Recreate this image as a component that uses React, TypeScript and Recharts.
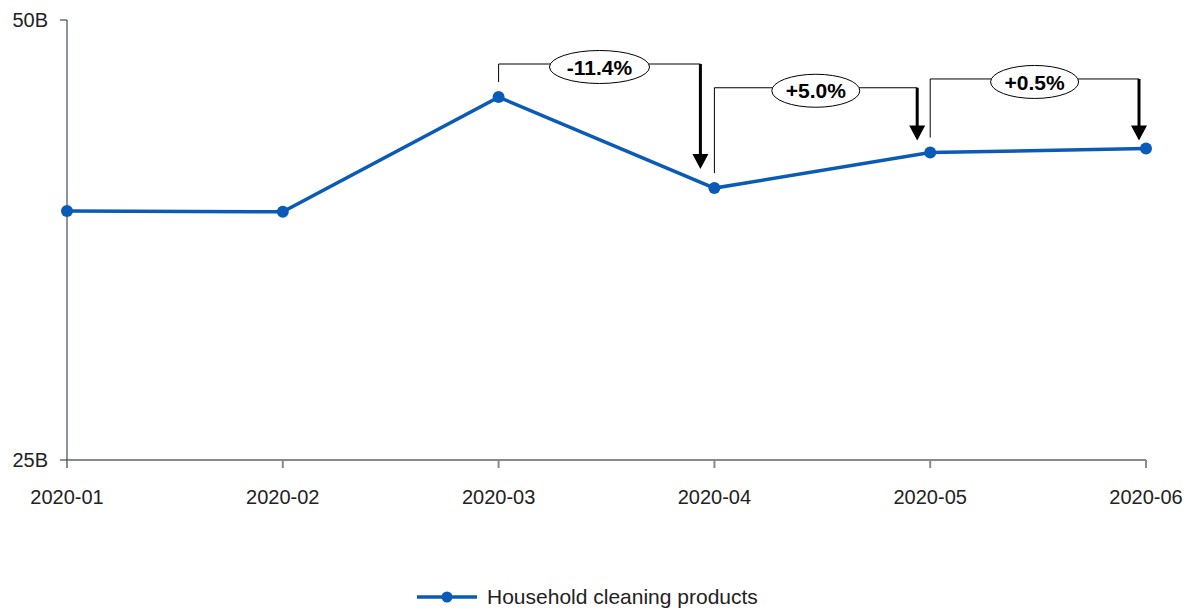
import { CartesianGrid, Legend, Line, LineChart, ReferenceLine, XAxis, YAxis } from "recharts";

const months = ["2020-01", "2020-02", "2020-03", "2020-04", "2020-05", "2020-06"];
const cleaningSales = [39.15, 39.1, 45.62, 40.45, 42.47, 42.7];
const yTicks = [25, 50];

// month-over-month change callouts: from index -> to index
const changeFrom = [2, 3, 4];
const changeLabels = ["-11.4%", "+5.0%", "+0.5%"];
const bracketTops = [47.5, 46.15, 46.65];

const data = months.map((m, i) => ({ month: m, value: cleaningSales[i] }));

const BLUE = "#0a5bb8";
const FONT = "'Liberation Sans', Arial, sans-serif";
// pixel tweaks for the callout arrows (gap left of the point, tip clearance above it)
const arrowGaps = [14, 13, 7];
const arrowClear = [19, 12, 8];

type Seg = { x1?: number; y1?: number; x2?: number; y2?: number };

const legShape = (p: Seg) => (
  <line x1={p.x1} y1={(p.y1 ?? 0) - 15} x2={p.x2} y2={p.y2} stroke="#000" strokeWidth={1} />
);

const barShape = (label: string, gap: number) => (p: Seg) => {
  const x1 = p.x1 ?? 0;
  const x2 = (p.x2 ?? 0) - gap;
  const y = p.y1 ?? 0;
  const cx = (x1 + x2) / 2;
  const rx = label.length * 6 + 14;
  return (
    <g>
      <line x1={x1} y1={y} x2={x2} y2={y} stroke="#000" strokeWidth={1} />
      <ellipse cx={cx} cy={y + 3} rx={rx} ry={16.5} fill="#fff" stroke="#000" strokeWidth={1} />
      <text
        x={cx}
        y={y + 3}
        dy="0.36em"
        textAnchor="middle"
        fontFamily={FONT}
        fontWeight="bold"
        fontSize={21}
        fill="#000"
      >
        {label}
      </text>
    </g>
  );
};

const arrowShape = (gap: number, clear: number) => (p: Seg) => {
  const x = (p.x1 ?? 0) - gap;
  const top = p.y1 ?? 0;
  const tip = (p.y2 ?? 0) - clear;
  return (
    <g>
      <line x1={x} y1={top} x2={x} y2={tip - 14} stroke="#000" strokeWidth={3} />
      <polygon points={`${x - 8},${tip - 15} ${x + 8},${tip - 15} ${x},${tip}`} fill="#000" />
    </g>
  );
};

const LegendContent = () => (
  <div
    style={{
      display: "flex",
      alignItems: "center",
      marginLeft: 417,
      fontFamily: FONT,
      fontSize: 21,
      color: "#222",
      height: 26,
    }}
  >
    <svg width={60} height={14} style={{ marginRight: 10 }}>
      <line x1={0} y1={7} x2={60} y2={7} stroke={BLUE} strokeWidth={3.5} />
      <circle cx={30} cy={7} r={5.5} fill={BLUE} />
    </svg>
    <span>Household cleaning products</span>
  </div>
);

export default function App() {
  return (
    <div style={{ width: 1199, height: 610, position: "absolute", left: 0, top: 0, background: "#fff" }}>
      <LineChart width={1199} height={610} data={data} margin={{ top: 20, right: 53, bottom: 0, left: 0 }}>
        <CartesianGrid stroke="none" />
        <XAxis
          dataKey="month"
          height={50}
          tickSize={8}
          tickMargin={22}
          stroke="#8a8a8a"
          strokeWidth={2}
          tick={{ fill: "#222", fontSize: 20, fontFamily: FONT }}
        />
        <YAxis
          domain={[25, 50]}
          ticks={yTicks}
          width={67}
          tickSize={7}
          tickMargin={12}
          stroke="#1c2742"
          tickFormatter={(v: number) => `${v}B`}
          tick={{ fill: "#222", fontSize: 20, fontFamily: FONT }}
        />
        {changeFrom.map((from, k) => (
          <ReferenceLine
            key={`leg-${k}`}
            segment={[
              { x: months[from], y: cleaningSales[from] },
              { x: months[from], y: bracketTops[k] },
            ]}
            shape={legShape}
          />
        ))}
        {changeFrom.map((from, k) => (
          <ReferenceLine
            key={`arrow-${k}`}
            segment={[
              { x: months[from + 1], y: bracketTops[k] },
              { x: months[from + 1], y: cleaningSales[from + 1] },
            ]}
            shape={arrowShape(arrowGaps[k], arrowClear[k])}
          />
        ))}
        {changeFrom.map((from, k) => (
          <ReferenceLine
            key={`bar-${k}`}
            segment={[
              { x: months[from], y: bracketTops[k] },
              { x: months[from + 1], y: bracketTops[k] },
            ]}
            shape={barShape(changeLabels[k], arrowGaps[k])}
          />
        ))}
        <Line
          type="linear"
          dataKey="value"
          name="Household cleaning products"
          stroke={BLUE}
          strokeWidth={3.5}
          dot={{ r: 6, fill: BLUE, stroke: BLUE, strokeWidth: 0 }}
          activeDot={false}
          isAnimationActive={false}
        />
        <Legend
          verticalAlign="bottom"
          height={100}
          content={<LegendContent />}
          wrapperStyle={{ left: 0, top: 584, width: 1199 }}
        />
      </LineChart>
    </div>
  );
}
